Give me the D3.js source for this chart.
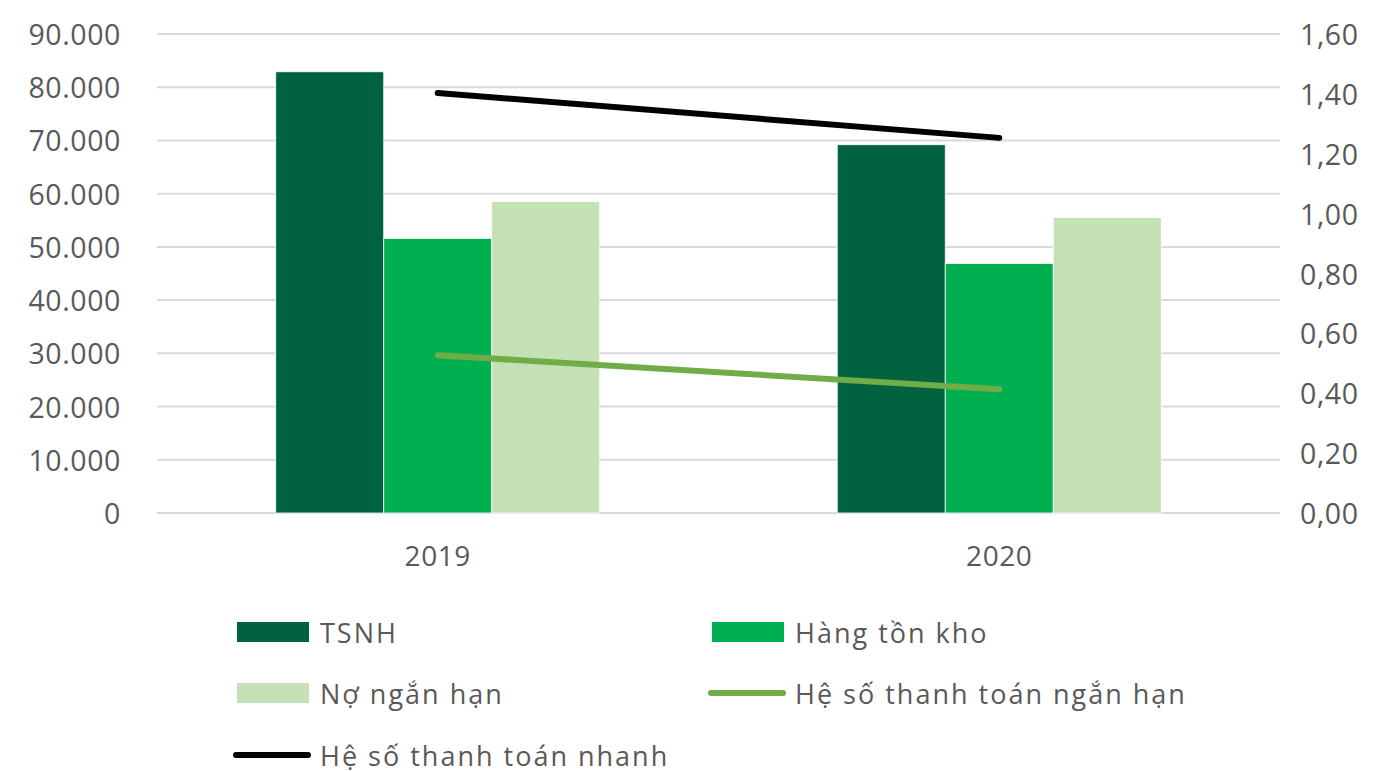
<!DOCTYPE html>
<html>
<head>
<meta charset="utf-8">
<script src="https://cdn.jsdelivr.net/npm/d3@7"></script>
<style>
  body { margin: 0; background: #fff; }
  svg text { font-family: "Open Sans", "Liberation Sans", sans-serif; fill: #595959; }
</style>
</head>
<body>
<svg id="chart" width="1379" height="771"></svg>
<script>
var years = ['2019', '2020'];
var barSeries = ['TSNH', 'Hàng tồn kho', 'Nợ ngắn hạn'];
var tsnh = [82900, 69200];
var hangTonKho = [51600, 46900];
var noNganHan = [58500, 55500];
var heSoNganHan = [0.527, 0.413];
var heSoNhanh = [1.403, 1.253];
var leftTicks = [0, 10000, 20000, 30000, 40000, 50000, 60000, 70000, 80000, 90000];
var rightTicks = [0, 0.2, 0.4, 0.6, 0.8, 1.0, 1.2, 1.4, 1.6];
var barColors = ['#006241', '#00b050', '#c5e0b4'];
var lineColors = { ngan: '#70ad47', nhanh: '#000000' };

var svg = d3.select('#chart');
var plotL = 157, plotR = 1280, plotT = 34, plotB = 513;

var x0 = d3.scaleBand().domain(years).range([plotL, plotR]).paddingInner(0).paddingOuter(0);
var x1 = d3.scaleBand().domain(barSeries).range([0, 324]);
var yL = d3.scaleLinear().domain([0, 90000]).range([plotB, plotT]);
var yR = d3.scaleLinear().domain([0, 1.6]).range([plotB, plotT]);

var fmtL = function(v){ return v === 0 ? '0' : d3.format(',')(v).replace(/,/g, '.'); };
var fmtR = function(v){ return d3.format('.2f')(v).replace('.', ','); };

// gridlines
svg.append('g').selectAll('line').data(leftTicks).enter().append('line')
  .attr('x1', plotL).attr('x2', plotR)
  .attr('y1', d => yL(d)).attr('y2', d => yL(d))
  .attr('stroke', '#d9d9d9').attr('stroke-width', 2);

// left axis labels
svg.append('g').selectAll('text').data(leftTicks).enter().append('text')
  .attr('x', 121).attr('y', d => yL(d))
  .attr('text-anchor', 'end').attr('dominant-baseline', 'central')
  .style('font-size', '28.5px').style('letter-spacing', '0.6px')
  .text(fmtL);

// right axis labels
svg.append('g').selectAll('text').data(rightTicks).enter().append('text')
  .attr('x', 1300).attr('y', d => yR(d))
  .attr('text-anchor', 'start').attr('dominant-baseline', 'central')
  .style('font-size', '28.5px').style('letter-spacing', '0.6px')
  .text(fmtR);

// x labels
svg.append('g').selectAll('text').data(years).enter().append('text')
  .attr('x', d => x0(d) + x0.bandwidth()/2).attr('y', 555)
  .attr('text-anchor', 'middle').attr('dominant-baseline', 'central')
  .style('font-size', '28px').style('letter-spacing', '0.6px')
  .text(d => d);

// bars
var barData = [tsnh, hangTonKho, noNganHan];
years.forEach(function(yr, i){
  var g = svg.append('g')
    .attr('transform', 'translate(' + (x0(yr) + x0.bandwidth()/2 - 162) + ',0)');
  barSeries.forEach(function(s, j){
    g.append('rect')
      .attr('x', x1(s)).attr('width', x1.bandwidth())
      .attr('y', yL(barData[j][i])).attr('height', plotB - yL(barData[j][i]))
      .attr('fill', barColors[j])
      .attr('stroke', '#ffffff').attr('stroke-width', 0.8);
  });
});

// lines
var cx = d => x0(d) + x0.bandwidth()/2;
function drawLine(vals, color){
  var line = d3.line().x((d, i) => cx(years[i])).y(d => yR(d));
  svg.append('path').datum(vals)
    .attr('d', line).attr('fill', 'none')
    .attr('stroke', color).attr('stroke-width', 6)
    .attr('stroke-linecap', 'round');
}
drawLine(heSoNganHan, lineColors.ngan);
drawLine(heSoNhanh, lineColors.nhanh);

// legend
var legendItems = [
  { name: 'TSNH', type: 'rect', color: barColors[0], x: 237, y: 632 },
  { name: 'Hàng tồn kho', type: 'rect', color: barColors[1], x: 712, y: 632 },
  { name: 'Nợ ngắn hạn', type: 'rect', color: barColors[2], x: 237, y: 693 },
  { name: 'Hệ số thanh toán ngắn hạn', type: 'line', color: lineColors.ngan, x: 712, y: 693 },
  { name: 'Hệ số thanh toán nhanh', type: 'line', color: lineColors.nhanh, x: 237, y: 755 }
];
svg.append('g').selectAll('g').data(legendItems).enter().append('g')
  .attr('transform', d => 'translate(' + d.x + ',' + d.y + ')')
  .each(function(d){
    var el = d3.select(this);
    if (d.type === 'rect') {
      el.append('rect').attr('x', 0).attr('y', -10).attr('width', 72).attr('height', 20).attr('fill', d.color);
    } else {
      el.append('line').attr('x1', -1).attr('x2', 71).attr('y1', 0).attr('y2', 0)
        .attr('stroke', d.color).attr('stroke-width', 6).attr('stroke-linecap', 'round');
    }
    el.append('text').attr('x', 83).attr('y', 0)
      .attr('dominant-baseline', 'central')
      .style('font-size', '27px').style('letter-spacing', '2px')
      .text(d.name);
  });
</script>
</body>
</html>
